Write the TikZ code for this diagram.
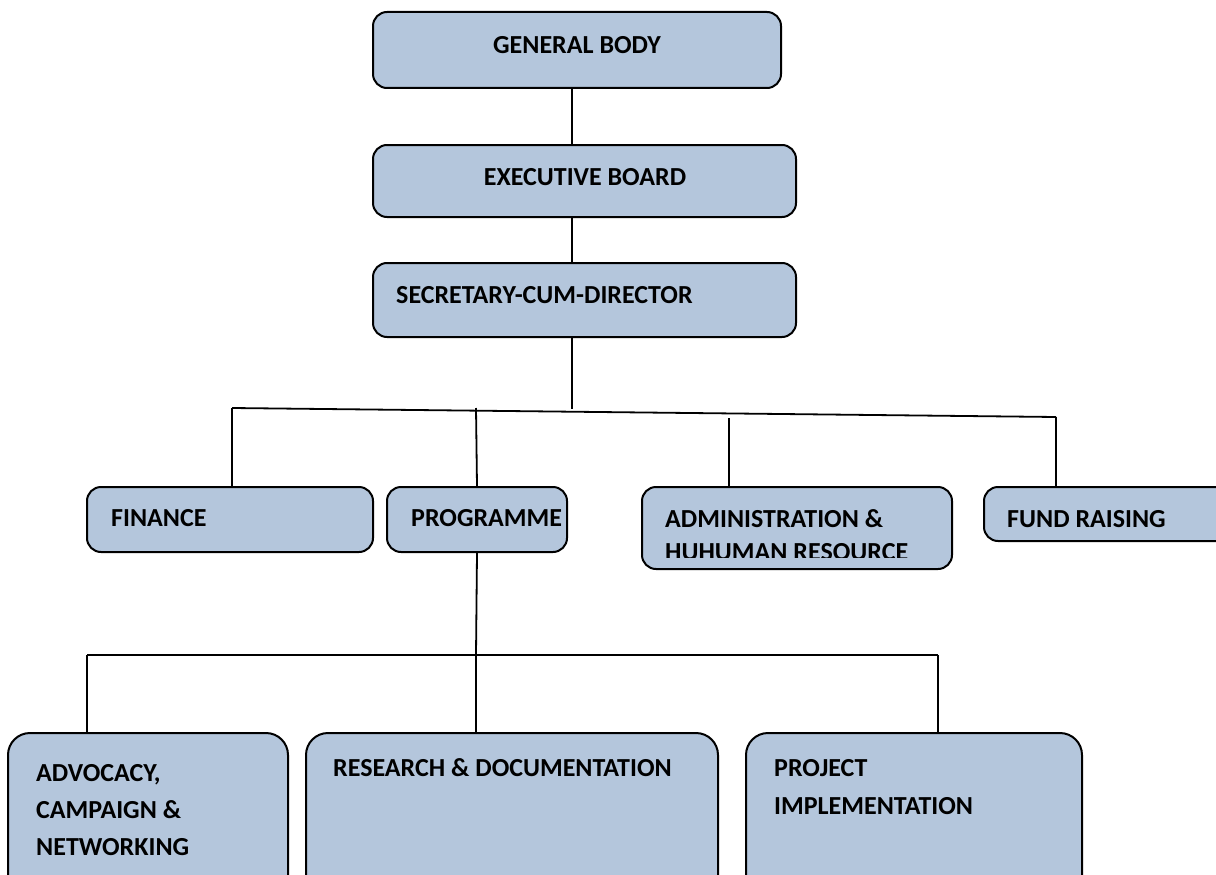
\documentclass[tikz,border=0pt]{standalone}
\usepackage{fontspec}
\setmainfont{Carlito}
\usepackage{xcolor}
\usetikzlibrary{positioning,calc}
\definecolor{unitblue}{RGB}{180,198,220}

\begin{document}
\begin{tikzpicture}[
    x=1pt, y=-1pt,
    % boxes of the chart
    unit/.style={rectangle, draw=black, line width=2pt, rounded corners=14pt, fill=unitblue, inner sep=0pt},
    wideunit/.style={unit, rounded corners=22pt},
    lbl/.style={font=\bfseries\fontsize{26}{34}\selectfont, inner sep=0pt, align=left, anchor=base west},
    link/.style={draw=black, line width=1.8pt}
]
    \clip (0,0) rectangle (1216,875);
    \fill[white] (0,0) rectangle (1216,875);

    % --- Boxes ---
    \node[unit, minimum width=408, minimum height=76] (gb) at (577,50) {};
    \node[unit, minimum width=423, minimum height=72] (eb) at (584.5,181) {};
    \node[unit, minimum width=423, minimum height=74] (scd) at (584.5,300) {};
    \node[unit, minimum width=286, minimum height=65] (fin) at (230,519.5) {};
    \node[unit, minimum width=180, minimum height=65] (prog) at (477,519.5) {};
    \node[unit, minimum width=310, minimum height=82] (adm) at (797,528) {};
    \node[unit, minimum width=246, minimum height=54] (fund) at (1107,514) {};
    \node[wideunit, minimum width=280, minimum height=167] (adv) at (148,816.5) {};
    \node[wideunit, minimum width=412, minimum height=167] (res) at (512,816.5) {};
    \node[wideunit, minimum width=336, minimum height=167] (proj) at (914,816.5) {};

    % --- Texts (base = last line) ---
    \node[lbl, anchor=base] (tgb) at (577,54) {GENERAL BODY};
    \node[lbl, anchor=base] (teb) at (585,185) {EXECUTIVE BOARD};
    \node[lbl] (tscd) at (396,303) {SECRETARY-CUM-DIRECTOR};
    \node[lbl] (tfin) at (111,526) {FINANCE};
    \node[lbl] (tprog) at (411,526) {PROGRAMME};
    \begin{scope}
        \clip (642,487) rectangle (952,557);
        \node[lbl, font=\bfseries\fontsize{26}{33}\selectfont] (tadm) at (665,560) {ADMINISTRATION \&\\HUHUMAN RESOURCE};
    \end{scope}
    \node[lbl] (tfund) at (1007,527) {FUND RAISING};
    \node[lbl, font=\bfseries\fontsize{26}{37}\selectfont] (tadv) at (36,855) {ADVOCACY,\\CAMPAIGN \&\\NETWORKING};
    \node[lbl] (tres) at (333,776) {RESEARCH \& DOCUMENTATION};
    \node[lbl, font=\bfseries\fontsize{26}{38}\selectfont] (tproj) at (774,814) {PROJECT\\IMPLEMENTATION};

    % --- Connectors ---
    \coordinate (trunk) at (572,0);
    \coordinate (busL) at (232,408);
    \coordinate (busR) at (1056,417);
    \coordinate (busM) at (572,409);
    \coordinate (progTop) at (476,408);
    \coordinate (admTop) at (729,418);
    \coordinate (lowL) at (87,655);
    \coordinate (lowM) at (476,655);
    \coordinate (lowR) at (938,655);

    \draw[link] (gb.south -| trunk) -- (eb.north -| trunk);
    \draw[link] (eb.south -| trunk) -- (scd.north -| trunk);
    \draw[link] (scd.south -| trunk) -- (busM);
    \draw[link] (busL) -- (busR);
    \draw[link] (busL) -- (fin.north -| busL);
    \draw[link] (progTop) -- (prog.north);
    \draw[link] (admTop) -- (adm.north -| admTop);
    \draw[link] (busR) -- (fund.north -| busR);

    \draw[link] (prog.south) -- (lowM) -- (res.north -| lowM);
    \draw[link] (lowL) -- (lowR);
    \draw[link] (lowL) -- (adv.north -| lowL);
    \draw[link] (lowR) -- (proj.north -| lowR);
\end{tikzpicture}
\end{document}
